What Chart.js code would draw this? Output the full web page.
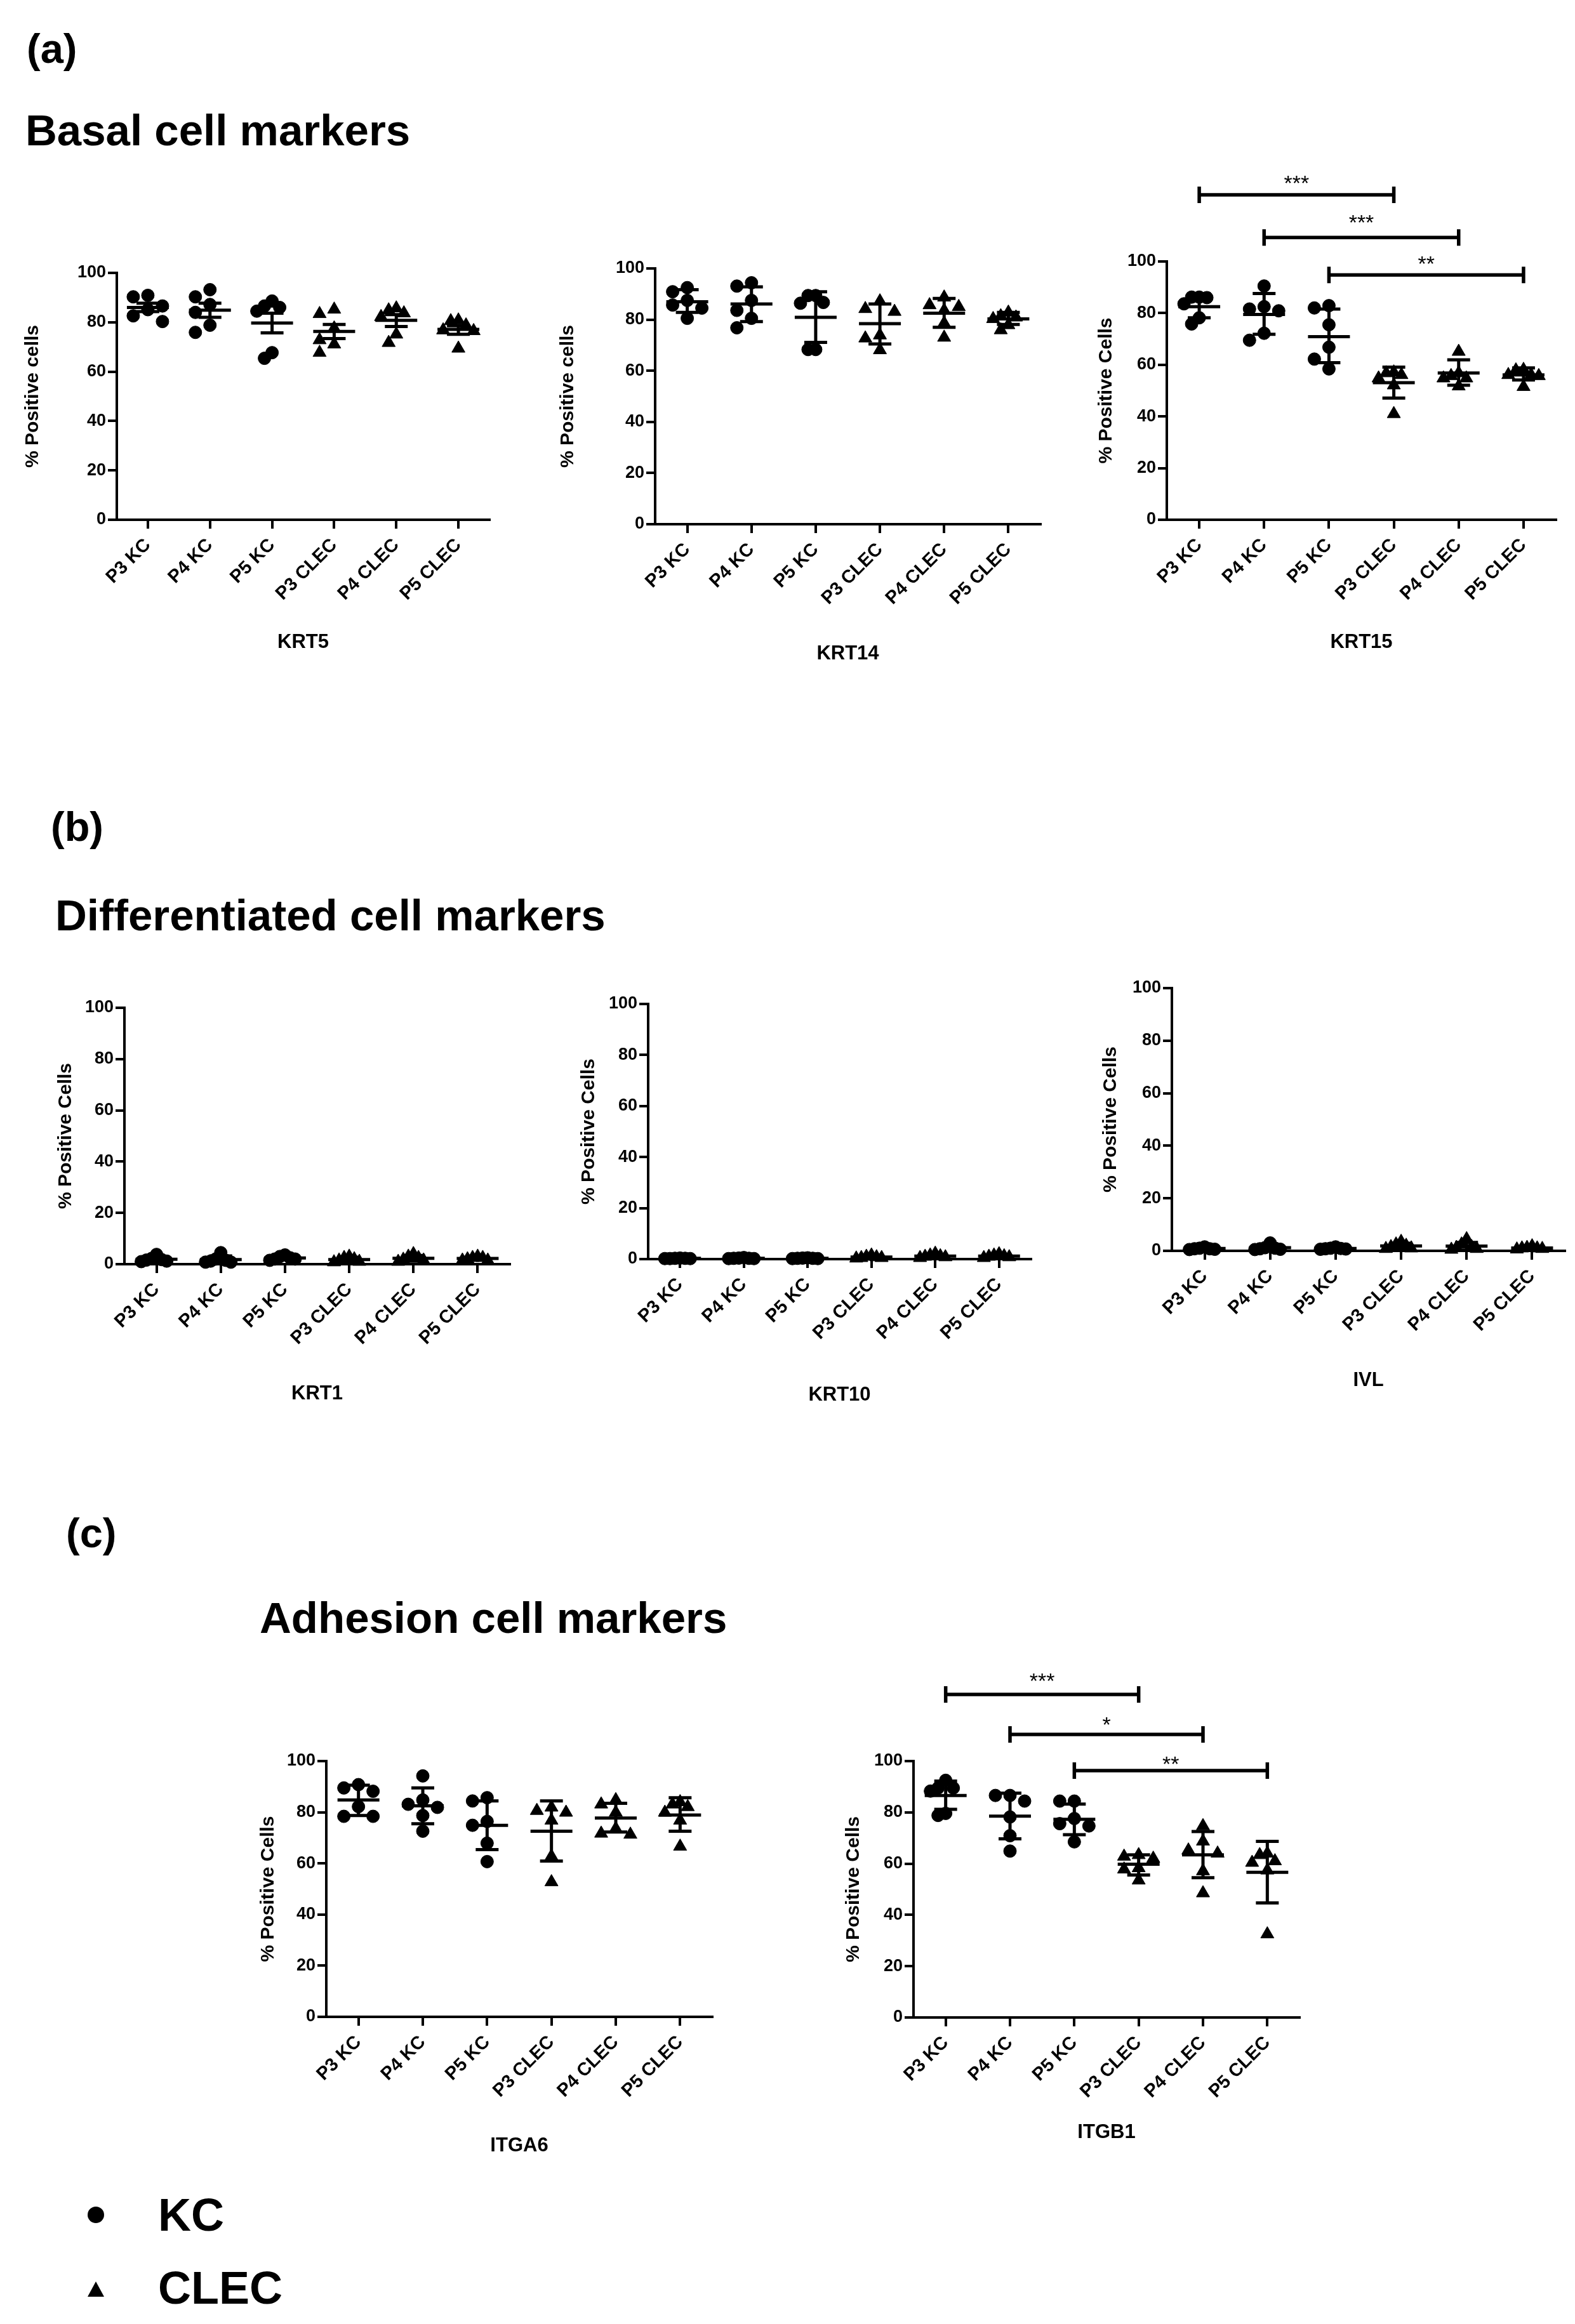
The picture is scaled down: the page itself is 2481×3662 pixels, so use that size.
<!DOCTYPE html>
<html><head><meta charset="utf-8">
<script src="https://cdn.jsdelivr.net/npm/chart.js@4.4.1/dist/chart.umd.min.js"></script>
<style>
html,body{margin:0;padding:0;background:#fff;}
body{width:2481px;height:3662px;position:relative;overflow:hidden;font-family:'Liberation Sans',Arial,sans-serif;}
.t{position:absolute;font-weight:bold;color:#000;white-space:nowrap;line-height:1;}
canvas{position:absolute;}
.dot{position:absolute;background:#000;border-radius:50%;}
.tri{position:absolute;background:#000;clip-path:polygon(50% 0,100% 100%,0 100%);}
</style></head><body>
<div class="t" style="left:42px;top:44px;font-size:65px">(a)</div>
<div class="t" style="left:40px;top:171px;font-size:69px">Basal cell markers</div>
<div class="t" style="left:80px;top:1270px;font-size:65px">(b)</div>
<div class="t" style="left:87px;top:1408px;font-size:69px">Differentiated cell markers</div>
<div class="t" style="left:104px;top:2383px;font-size:65px">(c)</div>
<div class="t" style="left:409px;top:2515px;font-size:69px">Adhesion cell markers</div>
<div class="dot" style="left:138px;top:3477px;width:26px;height:26px"></div>
<div class="t" style="left:249px;top:3454px;font-size:72px">KC</div>
<div class="tri" style="left:138px;top:3595px;width:26px;height:24px"></div>
<div class="t" style="left:249px;top:3569px;font-size:72px">CLEC</div>
<script>
const categories = ['P3 KC', 'P4 KC', 'P5 KC', 'P3 CLEC', 'P4 CLEC', 'P5 CLEC'];
const yTicks = [0, 20, 40, 60, 80, 100];

const KRT5_points = [
  [90.3, 90.9, 85.1, 86.6, 82.6, 80.3],
  [87.2, 90.3, 93.2, 84.0, 78.8, 75.9],
  [86.0, 88.6, 86.6, 84.5, 65.4, 67.7],
  [72.8, 83.4, 85.2, 77.6, 71.1, 67.7],
  [83.7, 85.7, 84.9, 82.2, 71.7, 75.1],
  [76.8, 80.5, 80.8, 78.8, 69.4, 76.5]
];
const KRT5_mean = [86.0, 84.9, 79.7, 76.3, 80.8, 77.1];
const KRT5_low  = [84.3, 82.0, 75.7, 73.4, 78.3, 75.1];
const KRT5_high = [87.7, 87.7, 83.7, 79.1, 83.1, 78.6];

const KRT14_points = [
  [90.9, 92.5, 85.7, 87.5, 84.5, 80.5],
  [87.5, 93.1, 94.4, 83.6, 80.5, 76.8],
  [86.4, 89.4, 89.4, 86.7, 68.3, 68.3],
  [84.2, 83.1, 87.2, 73.9, 72.7, 68.1],
  [85.0, 88.7, 85.7, 83.6, 78.6, 73.0],
  [80.9, 82.8, 81.4, 77.9, 75.9, 80.3]
];
const KRT14_mean = [87.0, 86.1, 80.9, 78.4, 82.5, 80.3];
const KRT14_low  = [82.8, 79.2, 71.1, 70.5, 77.0, 78.1];
const KRT14_high = [91.7, 92.8, 90.9, 86.1, 88.3, 82.8];

const KRT15_points = [
  [86.2, 86.2, 86.0, 83.6, 78.2, 75.8],
  [81.6, 90.5, 82.5, 80.9, 72.2, 69.5],
  [82.9, 82.0, 75.5, 66.8, 62.2, 58.4],
  [54.8, 56.8, 57.1, 56.1, 52.1, 41.0],
  [54.8, 56.8, 65.1, 55.7, 54.8, 51.7],
  [56.1, 58.1, 57.9, 56.1, 55.7, 51.5]
];
const KRT15_mean = [82.5, 79.5, 70.9, 53.1, 56.8, 56.1];
const KRT15_low  = [78.2, 71.8, 60.8, 47.1, 52.1, 54.1];
const KRT15_high = [87.6, 87.6, 81.6, 59.1, 61.9, 58.8];
const KRT15_sig = [[0, 3, '***'], [1, 4, '***'], [2, 5, '**']];

const KRT1_points = [
  [1.2, 1.8, 2.2, 3.8, 1.6, 1.0],
  [0.8, 1.2, 2.0, 4.5, 1.5, 0.8],
  [2.0, 3.0, 2.5, 3.6, 2.0, 1.5],
  [1.0, 2.5, 2.0, 3.0, 1.5, 0.8],
  [1.5, 2.5, 3.0, 4.0, 1.8, 1.0],
  [1.5, 2.5, 2.5, 3.0, 2.0, 1.5]
];
const KRT1_mean = [1.9, 1.8, 2.4, 1.8, 2.3, 2.2];
const KRT1_low  = [1.0, 0.6, 1.7, 0.9, 1.2, 1.6];
const KRT1_high = [2.8, 3.2, 3.1, 2.7, 3.4, 2.8];

const KRT10_points = [
  [0.2, 0.3, 0.2, 0.4, 0.3, 0.2],
  [0.2, 0.4, 0.3, 0.6, 0.3, 0.2],
  [0.2, 0.3, 0.4, 0.5, 0.3, 0.2],
  [0.3, 1.0, 0.5, 1.5, 0.8, 0.5],
  [0.5, 1.2, 1.0, 2.2, 1.5, 0.8],
  [0.5, 1.0, 1.2, 2.0, 1.5, 0.8]
];
const KRT10_mean = [0.3, 0.3, 0.3, 0.8, 1.2, 1.2];
const KRT10_low  = [0.2, 0.1, 0.2, 0.3, 0.6, 0.7];
const KRT10_high = [0.4, 0.5, 0.4, 1.3, 1.8, 1.7];

const IVL_points = [
  [0.5, 0.8, 1.0, 1.5, 0.8, 0.6],
  [0.5, 1.0, 1.2, 3.0, 0.8, 0.6],
  [0.6, 0.8, 1.0, 1.5, 0.9, 0.7],
  [1.0, 2.0, 2.5, 3.5, 1.5, 0.8],
  [0.8, 1.5, 2.5, 4.5, 1.2, 0.5],
  [0.6, 1.0, 1.2, 1.8, 1.0, 0.8]
];
const IVL_mean = [0.9, 1.2, 0.9, 1.9, 1.8, 1.1];
const IVL_low  = [0.5, 0.2, 0.6, 0.9, 0.3, 0.7];
const IVL_high = [1.3, 2.2, 1.2, 2.9, 3.2, 1.5];

const ITGA6_points = [
  [89.5, 90.8, 88.2, 82.2, 78.4, 78.4],
  [94.2, 83.1, 84.8, 81.9, 78.7, 72.6],
  [85.7, 84.4, 76.4, 74.9, 67.9, 60.7],
  [80.6, 81.9, 79.9, 76.8, 62.8, 52.7],
  [83.1, 84.8, 79.9, 73.6, 71.7, 71.3],
  [79.9, 83.1, 84.0, 82.1, 76.8, 66.6]
];
const ITGA6_mean = [84.8, 82.5, 74.9, 72.6, 77.7, 78.9];
const ITGA6_low  = [78.7, 75.5, 65.4, 60.9, 72.3, 72.6];
const ITGA6_high = [90.6, 89.5, 84.4, 84.4, 83.5, 85.7];

const ITGB1_points = [
  [89.5, 92.5, 89.5, 88.3, 78.8, 79.6],
  [86.6, 86.6, 84.4, 78.2, 70.9, 64.9],
  [75.6, 84.4, 84.4, 77.6, 74.7, 68.5],
  [62.8, 63.4, 58.3, 57.8, 62.0, 53.5],
  [68.7, 74.7, 65.2, 64.0, 57.1, 48.5],
  [60.4, 63.4, 64.0, 61.0, 57.4, 32.5]
];
const ITGB1_mean = [86.6, 78.5, 77.3, 59.8, 63.4, 56.6];
const ITGB1_low  = [81.2, 69.7, 71.3, 55.6, 54.5, 44.7];
const ITGB1_high = [92.2, 87.5, 83.2, 63.4, 72.5, 68.7];
const ITGB1_sig = [[0, 3, '***'], [1, 4, '*'], [2, 5, '**']];

const FAMILY = "'Liberation Sans', Arial, Helvetica, sans-serif";

// layout of each panel (pixel geometry of the plot frame)
const panels = [
  {name:'KRT5',  yt:'% Positive cells', pts:KRT5_points,  mean:KRT5_mean,  low:KRT5_low,  high:KRT5_high,
   ax:184, ex:771, y100:430, y0:819, ytx:51, xty:1012, padTop:40},
  {name:'KRT14', yt:'% Positive cells', pts:KRT14_points, mean:KRT14_mean, low:KRT14_low, high:KRT14_high,
   ax:1032, ex:1639, y100:423, y0:826, ytx:894, xty:1030, padTop:40},
  {name:'KRT15', yt:'% Positive Cells', pts:KRT15_points, mean:KRT15_mean, low:KRT15_low, high:KRT15_high,
   ax:1838, ex:2451, y100:412, y0:819, ytx:1742, xty:1012, padTop:200,
   sig:KRT15_sig, lineLv:[125.8, 109.3, 94.8], textLv:[132.4, 117.0, 101.0]},
  {name:'KRT1',  yt:'% Positive Cells', pts:KRT1_points,  mean:KRT1_mean,  low:KRT1_low,  high:KRT1_high,
   ax:196, ex:803, y100:1588, y0:1992, ytx:103, xty:2196, padTop:40},
  {name:'KRT10', yt:'% Positive Cells', pts:KRT10_points, mean:KRT10_mean, low:KRT10_low, high:KRT10_high,
   ax:1021, ex:1624, y100:1582, y0:1984, ytx:927, xty:2198, padTop:40},
  {name:'IVL',   yt:'% Positive Cells', pts:IVL_points,   mean:IVL_mean,   low:IVL_low,   high:IVL_high,
   ax:1846, ex:2465, y100:1557, y0:1971, ytx:1749, xty:2175, padTop:40},
  {name:'ITGA6', yt:'% Positive Cells', pts:ITGA6_points, mean:ITGA6_mean, low:ITGA6_low, high:ITGA6_high,
   ax:514, ex:1122, y100:2775, y0:3178, ytx:422, xty:3381, padTop:40},
  {name:'ITGB1', yt:'% Positive Cells', pts:ITGB1_points, mean:ITGB1_mean, low:ITGB1_low, high:ITGB1_high,
   ax:1439, ex:2047, y100:2775, y0:3179, ytx:1344, xty:3360, padTop:190,
   sig:ITGB1_sig, lineLv:[126.0, 110.4, 96.3], textLv:[133.2, 116.3, 101.0]}
];

// GraphPad-like column scatter: spread points with close values sideways
function swarm(vals, pxPerUnit, diam, slotPx, maxPx) {
  const order = vals.map((v, i) => i).sort((a, b) => vals[b] - vals[a]);
  const slots = new Array(vals.length).fill(0);
  const placed = [];
  const seq = [0, -1, 1, -2, 2, -3, 3, -4, 4, -5, 5];
  for (const i of order) {
    for (const s of seq) {
      if (!placed.some(p => p.s === s && Math.abs(p.v - vals[i]) * pxPerUnit < diam)) {
        slots[i] = s; placed.push({s: s, v: vals[i]}); break;
      }
    }
  }
  const maxS = Math.max(...slots.map(Math.abs));
  const step = (maxS * slotPx > maxPx) ? maxPx / maxS : slotPx;
  return slots.map(s => s * step);
}

function makePlugin(p) {
  return {
    id: 'errbars',
    afterDatasetsDraw(chart) {
      const ctx = chart.ctx, xs = chart.scales.x, ys = chart.scales.y;
      ctx.save();
      ctx.strokeStyle = '#000';
      ctx.lineCap = 'butt';
      ctx.lineWidth = 5;
      p.mean.forEach((m, i) => {
        const x = xs.getPixelForValue(i);
        const ym = ys.getPixelForValue(m), yl = ys.getPixelForValue(p.low[i]), yh = ys.getPixelForValue(p.high[i]);
        ctx.beginPath();
        ctx.moveTo(x - 33, ym); ctx.lineTo(x + 33, ym);
        ctx.moveTo(x, yl); ctx.lineTo(x, yh);
        ctx.moveTo(x - 18, yl); ctx.lineTo(x + 18, yl);
        ctx.moveTo(x - 18, yh); ctx.lineTo(x + 18, yh);
        ctx.stroke();
      });
      if (p.sig) {
        ctx.lineWidth = 5.5;
        ctx.fillStyle = '#000';
        ctx.textAlign = 'center';
        ctx.textBaseline = 'alphabetic';
        const F = 34;
        ctx.font = 'normal ' + F + 'px ' + FAMILY;
        p.sig.forEach((s, k) => {
          const x1 = xs.getPixelForValue(s[0]), x2 = xs.getPixelForValue(s[1]);
          const y = ys.getPixelForValue(p.lineLv[k]);
          ctx.beginPath();
          ctx.moveTo(x1, y); ctx.lineTo(x2, y);
          ctx.moveTo(x1, y - 13); ctx.lineTo(x1, y + 13);
          ctx.moveTo(x2, y - 13); ctx.lineTo(x2, y + 13);
          ctx.stroke();
          const ty = ys.getPixelForValue(p.textLv[k]) + 0.575 * F;
          ctx.fillText(s[2], (x1 + x2) / 2, ty);
        });
      }
      ctx.restore();
    }
  };
}

panels.forEach(p => {
  const yLH = 29 * 1.2, xLH = 31 * 1.2;
  const left = Math.round(p.ytx - yLH / 2);
  const top = p.y100 - p.padTop;
  const rightPad = 30;
  const width = p.ex + rightPad - left;
  const height = Math.round(p.xty + xLH / 2 - top);
  const Wy = p.ax - left;
  const Hx = height - (p.y0 - top);
  const cv = document.createElement('canvas');
  cv.width = width; cv.height = height;
  cv.style.left = left + 'px'; cv.style.top = top + 'px';
  cv.style.width = width + 'px'; cv.style.height = height + 'px';
  document.body.appendChild(cv);

  const pxPerUnit = (p.y0 - p.y100) / 100;
  const catPx = (p.ex - p.ax) / 6;
  const kc = [], clec = [];
  p.pts.forEach((vals, gi) => {
    const offs = swarm(vals, pxPerUnit, 19, 23, 24);
    vals.forEach((v, j) => {
      const pt = {x: gi + offs[j] / catPx, y: v};
      (gi < 3 ? kc : clec).push(pt);
    });
  });

  const tickFont = {family: FAMILY, size: 27, weight: 'bold'};
  new Chart(cv, {
    type: 'scatter',
    data: {
      datasets: [
        {data: kc, pointStyle: 'circle', pointRadius: 10, backgroundColor: '#000', borderColor: '#000', borderWidth: 1, clip: false},
        {data: clec, pointStyle: 'triangle', pointRadius: 12, backgroundColor: '#000', borderColor: '#000', borderWidth: 1, clip: false}
      ]
    },
    options: {
      responsive: false, animation: false, devicePixelRatio: 1, events: [],
      layout: {padding: {top: p.padTop, right: rightPad, left: 0, bottom: 0}},
      plugins: {legend: {display: false}, tooltip: {enabled: false}},
      scales: {
        x: {
          type: 'linear', min: -0.5, max: 5.5,
          afterBuildTicks: s => { s.ticks = categories.map((c, i) => ({value: i})); },
          afterFit: s => { s.height = Hx; },
          ticks: {callback: v => categories[v], minRotation: 45, maxRotation: 45, autoSkip: false,
                  color: '#000', font: {family: FAMILY, size: 29, weight: 'bold'}, padding: 9},
          grid: {drawOnChartArea: false, drawTicks: true, tickLength: 14, color: '#000', lineWidth: 4},
          border: {display: true, color: '#000', width: 4},
          title: {display: true, text: p.name, color: '#000', font: {family: FAMILY, size: 31, weight: 'bold'}, padding: 0}
        },
        y: {
          min: 0, max: 100,
          afterBuildTicks: s => { s.ticks = yTicks.map(v => ({value: v})); },
          afterFit: s => { s.width = Wy; },
          ticks: {color: '#000', font: tickFont, padding: 3},
          grid: {drawOnChartArea: false, drawTicks: true, tickLength: 14, color: '#000', lineWidth: 4},
          border: {display: true, color: '#000', width: 4},
          title: {display: true, text: p.yt, color: '#000', font: {family: FAMILY, size: 30, weight: 'bold'}, padding: 0}
        }
      }
    },
    plugins: [makePlugin(p)]
  });
});
</script>
</body></html>
